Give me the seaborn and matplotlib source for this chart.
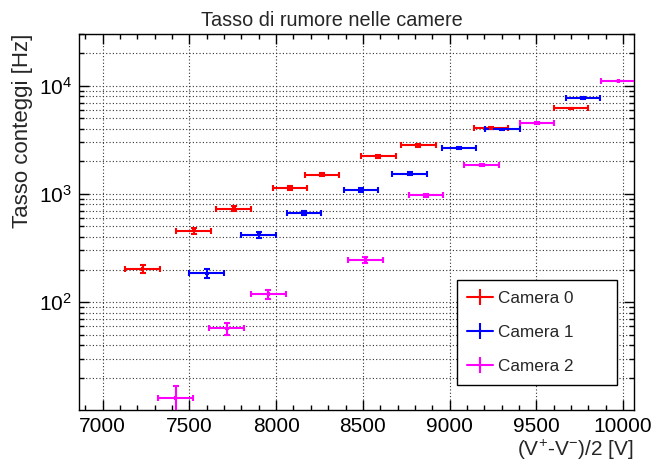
import numpy as np
import pandas as pd
import matplotlib
matplotlib.use("Agg")
import matplotlib.pyplot as plt
from matplotlib.ticker import FixedLocator, MultipleLocator, NullFormatter, FixedFormatter
from matplotlib.lines import Line2D
import seaborn as sns

# Noise rate measured in each chamber as a function of the applied voltage
cameras = ["Camera 0", "Camera 1", "Camera 2"]
colors = ["#ff0000", "#0000ff", "#ff00ff"]

v_cam0 = [7230, 7525, 7755, 8080, 8265, 8590, 8820, 9240, 9700]
rate_cam0 = [202, 458, 733, 1137, 1500, 2233, 2806, 4084, 6180]
err_cam0 = [18, 28, 35, 43, 50, 61, 68, 82, 101]

v_cam1 = [7600, 7900, 8160, 8490, 8770, 9055, 9305, 9770]
rate_cam1 = [184, 421, 667, 1082, 1531, 2667, 3945, 7740]
err_cam1 = [17, 26, 33, 42, 50, 66, 80, 113]

v_cam2 = [7420, 7715, 7955, 8515, 8865, 9185, 9505, 9975]
rate_cam2 = [13.0, 57.0, 118.6, 245, 973, 1845, 4520, 11070]
err_cam2 = [3.9, 7.4, 12, 16, 33, 45, 70, 110]

v_halfwidth = 100  # voltage uncertainty [V]

x_ticks = [7000, 7500, 8000, 8500, 9000, 9500, 10000]
y_ticks = [1e2, 1e3, 1e4]
y_ticklabels = [r"$10^{2}$", r"$10^{3}$", r"$10^{4}$"]

frames = []
for name, v, r, e in zip(cameras,
                         [v_cam0, v_cam1, v_cam2],
                         [rate_cam0, rate_cam1, rate_cam2],
                         [err_cam0, err_cam1, err_cam2]):
    frames.append(pd.DataFrame({"camera": name, "V": v, "rate": r, "err": e}))
df = pd.concat(frames, ignore_index=True)

sns.set_theme(style="ticks")
plt.rcParams["font.family"] = ["Liberation Sans", "DejaVu Sans"]
plt.rcParams["mathtext.default"] = "regular"

fig, ax = plt.subplots(figsize=(6.55, 4.61), dpi=100)
fig.subplots_adjust(left=0.1206, right=0.9672, bottom=0.1106, top=0.9262)
ax.set_yscale("log")
ax.set_xlim(6863, 10061)
ax.set_ylim(10.05, 3.01e4)

# grid: x only at major ticks, y at every decade subdivision
ax.set_axisbelow(True)
ax.grid(True, which="major", axis="x", color="#333333", lw=0.8, ls=(0, (1, 2)))
ax.grid(True, which="both", axis="y", color="#333333", lw=0.8, ls=(0, (1, 2)))

for name, c in zip(cameras, colors):
    sub = df[df["camera"] == name]
    ax.errorbar(sub["V"], sub["rate"], xerr=v_halfwidth, yerr=sub["err"],
                fmt="none", ecolor=c, elinewidth=1.5, capsize=2.3, capthick=1.5,
                zorder=3)

sns.scatterplot(data=df, x="V", y="rate", hue="camera", palette=colors,
                marker="s", s=7, linewidth=0, legend=False, ax=ax, zorder=4)

# axis ticks
ax.xaxis.set_major_locator(FixedLocator(x_ticks))
ax.xaxis.set_minor_locator(MultipleLocator(100))
ax.yaxis.set_major_locator(FixedLocator(y_ticks))
ax.yaxis.set_major_formatter(FixedFormatter(y_ticklabels))
minor_y = [m * d for d in (10, 100, 1000, 10000) for m in range(2, 10)]
ax.yaxis.set_minor_locator(FixedLocator(minor_y))
ax.yaxis.set_minor_formatter(NullFormatter())
ax.tick_params(which="both", direction="in", top=True, right=True,
               color="black", width=1.0, labelsize=15, labelcolor="black")
ax.tick_params(which="major", length=7.2, pad=5)
ax.tick_params(which="minor", length=3.6)
for sp in ax.spines.values():
    sp.set_color("black")
    sp.set_linewidth(1.0)

ax.set_xlabel(r"(V$^{+}$-V$^{-}$)/2 [V]", fontsize=15, loc="right")
ax.set_ylabel("Tasso conteggi [Hz]", fontsize=16, loc="top")
ax.yaxis.set_label_coords(-0.083, 1.0)
ax.xaxis.set_label_coords(1.0, -0.075)

fig.text(0.506, 0.9436, "Tasso di rumore nelle camere", ha="center",
         va="baseline", fontsize=14.3)

handles = [Line2D([0], [0], color=c, lw=1.5, marker="|", markersize=11.5,
                  mew=1.5) for c in colors]
leg = ax.legend(handles, cameras, loc="center", mode="expand",
                bbox_to_anchor=(0.681, 0.064, 0.289, 0.284), fontsize=12.3,
                frameon=True, fancybox=False, shadow=False, framealpha=1,
                edgecolor="black", borderpad=0.62, labelspacing=1.13,
                handlelength=1.5, handletextpad=0.3, numpoints=1,
                borderaxespad=0)
leg.get_frame().set_linewidth(1.0)

fig.savefig("out.png", dpi=100)
